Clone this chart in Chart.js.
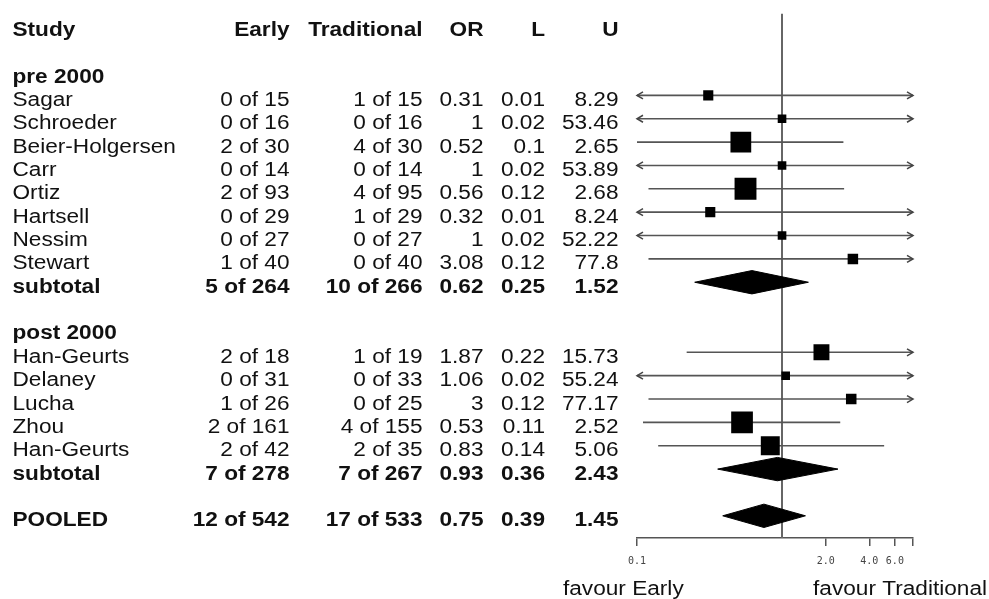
<!DOCTYPE html>
<html><head><meta charset="utf-8">
<script src="https://cdn.jsdelivr.net/npm/chart.js@4/dist/chart.umd.min.js"></script>
<style>html,body{margin:0;padding:0;background:#fff}#wrap{width:989px;height:599px}</style>
</head><body><div id="wrap"><canvas id="c" width="989" height="599"></canvas></div>
<script>
// ---------- data ----------
const columnHeaders = ['Study', 'Early', 'Traditional', 'OR', 'L', 'U'];
const groupNames = ['pre 2000', 'post 2000'];

const preStudy = ['Sagar', 'Schroeder', 'Beier-Holgersen', 'Carr', 'Ortiz', 'Hartsell', 'Nessim', 'Stewart'];
const preEarly = ['0 of 15', '0 of 16', '2 of 30', '0 of 14', '2 of 93', '0 of 29', '0 of 27', '1 of 40'];
const preTrad = ['1 of 15', '0 of 16', '4 of 30', '0 of 14', '4 of 95', '1 of 29', '0 of 27', '0 of 40'];
const preOR = [0.31, 1, 0.52, 1, 0.56, 0.32, 1, 3.08];
const preL = [0.01, 0.02, 0.1, 0.02, 0.12, 0.01, 0.02, 0.12];
const preU = [8.29, 53.46, 2.65, 53.89, 2.68, 8.24, 52.22, 77.8];

const postStudy = ['Han-Geurts', 'Delaney', 'Lucha', 'Zhou', 'Han-Geurts'];
const postEarly = ['2 of 18', '0 of 31', '1 of 26', '2 of 161', '2 of 42'];
const postTrad = ['1 of 19', '0 of 33', '0 of 25', '4 of 155', '2 of 35'];
const postOR = [1.87, 1.06, 3, 0.53, 0.83];
const postL = [0.22, 0.02, 0.12, 0.11, 0.14];
const postU = [15.73, 55.24, 77.17, 2.52, 5.06];

const subtotalEarly = ['5 of 264', '7 of 278'];
const subtotalTrad = ['10 of 266', '7 of 267'];
const subtotalOR = [0.62, 0.93];
const subtotalL = [0.25, 0.36];
const subtotalU = [1.52, 2.43];

const pooledEarly = '12 of 542';
const pooledTrad = '17 of 533';
const pooledOR = 0.75;
const pooledL = 0.39;
const pooledU = 1.45;

const xMin = 0.1, xMax = 8;
const xTickValues = [0.1, 2, 4, 6, 8];
const xTickLabels = ['0.1', '2.0', '4.0', '6.0', ''];
const favourLabels = ['favour Early', 'favour Traditional'];

// ---------- build table rows ----------
const groups = [
  {name: groupNames[0], study: preStudy, early: preEarly, trad: preTrad, or: preOR, l: preL, u: preU},
  {name: groupNames[1], study: postStudy, early: postEarly, trad: postTrad, or: postOR, l: postL, u: postU}
];
const rows = [];
rows.push({y: 0, bold: true, cells: columnHeaders});
let yy = 2;
groups.forEach((g, gi) => {
  rows.push({y: yy, bold: true, cells: [g.name, '', '', '', '', '']}); yy++;
  g.study.forEach((s, i) => {
    rows.push({y: yy, bold: false, type: 'study', or: g.or[i], l: g.l[i], u: g.u[i],
      cells: [s, g.early[i], g.trad[i], String(g.or[i]), String(g.l[i]), String(g.u[i])]});
    yy++;
  });
  rows.push({y: yy, bold: true, type: 'diamond', or: subtotalOR[gi], l: subtotalL[gi], u: subtotalU[gi],
    cells: ['subtotal', subtotalEarly[gi], subtotalTrad[gi], String(subtotalOR[gi]), String(subtotalL[gi]), String(subtotalU[gi])]});
  yy += 2;
});
rows.push({y: yy, bold: true, type: 'diamond', or: pooledOR, l: pooledL, u: pooledU,
  cells: ['POOLED', pooledEarly, pooledTrad, String(pooledOR), String(pooledL), String(pooledU)]});

const studyRows = rows.filter(r => r.type === 'study');
const diamondRows = rows.filter(r => r.type === 'diamond');
const clampX = v => Math.min(xMax, Math.max(xMin, v));
const boxSide = r => 68 / Math.log(r.u / r.l);

// ---------- datasets ----------
const datasets = [];
datasets.push({
  label: 'estimates', data: studyRows.map(r => ({x: r.or, y: r.y})),
  showLine: false, pointStyle: 'rect',
  pointRadius: studyRows.map(r => boxSide(r) / Math.SQRT2),
  pointBackgroundColor: '#000', pointBorderColor: '#000', pointBorderWidth: 0
});
diamondRows.forEach(r => {
  datasets.push({
    label: 'diamond', data: [
      {x: r.l, y: r.y}, {x: r.or, y: r.y - 0.5}, {x: r.u, y: r.y}, {x: r.or, y: r.y + 0.5}, {x: r.l, y: r.y}
    ],
    borderColor: '#000', backgroundColor: '#000', borderWidth: 1, fill: 'shape', pointRadius: 0, tension: 0
  });
});
studyRows.forEach(r => {
  datasets.push({
    label: 'ci', data: [{x: clampX(r.l), y: r.y}, {x: clampX(r.u), y: r.y}],
    borderColor: '#555', borderWidth: 1.6, pointRadius: 0, fill: false
  });
});
datasets.push({
  label: 'ref', data: [{x: 1, y: -0.51}, {x: 1, y: 21.95}],
  borderColor: '#666', borderWidth: 2, pointRadius: 0, fill: false
});

// ---------- plugins ----------
const FONT = '"Liberation Sans", Arial, Helvetica, sans-serif';
const FS = 19.5, SX = 1.16;
const colRight = [null, 289.5, 422.5, 483.5, 545, 618.5];
const studyLeft = 12.5;

function stretchedText(ctx, text, x, y, align, bold) {
  ctx.save();
  ctx.translate(x, y);
  ctx.scale(SX, 1);
  ctx.font = (bold ? 'bold ' : '') + FS + 'px ' + FONT;
  ctx.textAlign = align;
  ctx.textBaseline = 'alphabetic';
  ctx.fillStyle = '#111';
  ctx.fillText(text, 0, 0);
  ctx.restore();
}

const tablePlugin = {
  id: 'table',
  afterDraw(chart) {
    const ctx = chart.ctx;
    const ys = chart.scales.y;
    rows.forEach(r => {
      const py = ys.getPixelForValue(r.y) + 10.5;
      r.cells.forEach((c, ci) => {
        if (!c) return;
        if (ci === 0) stretchedText(ctx, c, studyLeft, py, 'left', r.bold);
        else stretchedText(ctx, c, colRight[ci], py, 'right', r.bold);
      });
    });
    stretchedText(ctx, favourLabels[0], 563, 594.5, 'left', false);
    stretchedText(ctx, favourLabels[1], 987, 594.5, 'right', false);
  }
};

const arrowPlugin = {
  id: 'arrows',
  afterDatasetsDraw(chart) {
    const ctx = chart.ctx;
    const xs = chart.scales.x, ys = chart.scales.y;
    ctx.save();
    ctx.strokeStyle = '#444';
    ctx.lineWidth = 1.5;
    studyRows.forEach(r => {
      const py = ys.getPixelForValue(r.y);
      if (r.l < xMin) {
        const px = xs.getPixelForValue(xMin);
        ctx.beginPath();
        ctx.moveTo(px + 6, py - 3.5); ctx.lineTo(px, py); ctx.lineTo(px + 6, py + 3.5);
        ctx.stroke();
      }
      if (r.u > xMax) {
        const px = xs.getPixelForValue(xMax);
        ctx.beginPath();
        ctx.moveTo(px - 6, py - 3.5); ctx.lineTo(px, py); ctx.lineTo(px - 6, py + 3.5);
        ctx.stroke();
      }
    });
    ctx.restore();
  }
};

new Chart(document.getElementById('c'), {
  type: 'line',
  data: {datasets},
  options: {
    responsive: false, animation: false, devicePixelRatio: 1, events: [],
    layout: {padding: {left: 637, right: 76, top: 10, bottom: 0}},
    plugins: {legend: {display: false}, tooltip: {enabled: false}},
    scales: {
      x: {
        type: 'logarithmic', min: xMin, max: xMax, position: 'bottom',
        afterBuildTicks: s => { s.ticks = xTickValues.map(v => ({value: v})); },
        afterFit: s => { s.height = 61; },
        ticks: {
          autoSkip: false, maxRotation: 0, minRotation: 0, padding: 9, color: '#444',
          font: {family: '"DejaVu Sans Mono", monospace', size: 10},
          callback: (v, i) => xTickLabels[i]
        },
        grid: {drawOnChartArea: false, drawTicks: true, tickLength: 8, color: '#555', lineWidth: 1.5},
        border: {display: true, color: '#555', width: 1.5}
      },
      y: {type: 'linear', reverse: true, min: -0.51, max: 21.95, display: false}
    }
  },
  plugins: [tablePlugin, arrowPlugin]
});
</script>
</body></html>
